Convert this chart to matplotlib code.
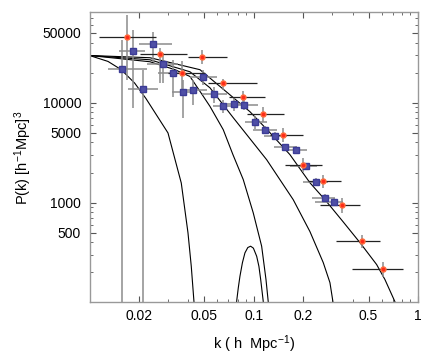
import numpy as np
import matplotlib.pyplot as plt

plt.rcParams['font.family'] = ['Liberation Sans', 'DejaVu Sans']
plt.rcParams['mathtext.default'] = 'regular'

# red points: k, P and their ranges
red_k = [0.0168, 0.0269, 0.0366, 0.0486, 0.0647, 0.0856, 0.1133, 0.150, 0.200, 0.2627, 0.3457, 0.4556, 0.609]
red_P = [46000, 30700, 19800, 29000, 15600, 11300, 7710, 4750, 2400, 1660, 940, 414, 214]
red_klo = [0.0115, 0.0203, 0.0300, 0.0399, 0.0526, 0.0709, 0.0913, 0.1255, 0.1548, 0.213, 0.2529, 0.3164, 0.3944]
red_khi = [0.0254, 0.0390, 0.0505, 0.0687, 0.1042, 0.117, 0.1533, 0.2001, 0.259, 0.342, 0.443, 0.5904, 0.8126]
red_Plo = [17000, 15800, 13500, 24500, 13500, 9770, 6460, 4070, 2040, 1410, 794, 355, 178]
red_Phi = [75900, 35500, 25900, 33900, 17400, 13200, 9120, 5620, 2820, 1910, 1100, 479, 257]

# blue points
blue_k = [0.0158, 0.0183, 0.0213, 0.0243, 0.0281, 0.0324, 0.0372, 0.0428, 0.0493, 0.0573, 0.0652,
          0.0758, 0.0875, 0.1017, 0.117, 0.1352, 0.1554, 0.180, 0.208, 0.238, 0.2724, 0.3077]
blue_P = [21900, 33300, 13800, 38600, 24400, 19800, 12700, 13500, 18100, 12200, 9330,
          9770, 9550, 6360, 5330, 4680, 3600, 3390, 2310, 1620, 1110, 1010]
blue_klo = [0.0130, 0.0152, 0.0172, 0.0200, 0.0223, 0.0261, 0.0317, 0.0356, 0.0409, 0.0482, 0.0565,
            0.0632, 0.0737, 0.0884, 0.0993, 0.1158, 0.1327, 0.1512, 0.1661, 0.1984, 0.2251, 0.2358]
blue_khi = [0.0223, 0.0218, 0.0261, 0.0317, 0.0347, 0.0381, 0.0439, 0.0517, 0.0595, 0.0684, 0.0790,
            0.0922, 0.106, 0.1198, 0.1379, 0.1599, 0.1824, 0.2116, 0.2415, 0.2841, 0.312, 0.3506]
blue_Plo = [1, 8850, 1, 25700, 15800, 11500, 7080, 9550, 15100, 10000, 7940,
            8320, 8510, 5500, 4900, 4300, 3300, 3100, 2120, 1490, 1020, 930]
blue_Phi = [42700, 53700, 21400, 51300, 31600, 26900, 17000, 17000, 21400, 14500, 10700,
            11200, 10700, 7410, 5800, 5100, 3900, 3700, 2520, 1770, 1210, 1100]

# model curves
curveA_k = [0.01, 0.01296, 0.01561, 0.01884, 0.02207, 0.03005, 0.0362, 0.03977, 0.04164, 0.04325, 0.0437]
curveA_P = [29700, 25900, 21400, 15700, 11000, 4980, 1570, 498, 231, 102, 80]
curveB_k = [0.01, 0.02334, 0.03315, 0.04089, 0.04705, 0.05412, 0.0652, 0.0747, 0.08631, 0.0993, 0.1117, 0.1187, 0.1225, 0.124]
curveB_P = [29700, 25700, 21400, 18300, 13000, 9190, 5370, 3020, 1700, 789, 366, 170, 102, 80]
curveC_k = [0.01, 0.02334, 0.04089, 0.05412, 0.0750, 0.1198, 0.1739, 0.2198, 0.2649, 0.2910, 0.3034, 0.307]
curveC_P = [29700, 26900, 20400, 14100, 7080, 2690, 1070, 513, 251, 158, 102, 80]
curveD_k = [0.01, 0.02334, 0.04705, 0.0716, 0.0948, 0.1255, 0.1661, 0.2198, 0.2713, 0.3491, 0.443, 0.5598, 0.6288, 0.7235, 0.74]
curveD_P = [29700, 28200, 21400, 12000, 8130, 5010, 3020, 1580, 1070, 646, 398, 240, 170, 102, 80]
bump_k = [0.0775, 0.07869, 0.0805, 0.0824, 0.0853, 0.08838, 0.092, 0.0957, 0.0995, 0.1042, 0.1075, 0.1102, 0.1142, 0.1155]
bump_P = [60, 103, 140, 183, 250, 314, 355, 366, 350, 290, 230, 170, 103, 60]

xticks = [0.02, 0.05, 0.1, 0.2, 0.5, 1]
xticklabels = ['0.02', '0.05', '0.1', '0.2', '0.5', '1']
yticks = [500, 1000, 5000, 10000, 50000]
yticklabels = ['500', '1000', '5000', '10000', '50000']

fig = plt.figure(figsize=(4.36, 3.54), dpi=100)
ax = fig.add_axes([0.2053, 0.1455, 0.7534, 0.8192])

for ck, cp in [(curveA_k, curveA_P), (curveB_k, curveB_P), (curveC_k, curveC_P),
               (curveD_k, curveD_P), (bump_k, bump_P)]:
    ax.plot(ck, cp, color='black', lw=0.8, zorder=2)

bk = np.array(blue_k)
bp = np.array(blue_P)
ax.errorbar(bk, bp, xerr=[bk - np.array(blue_klo), np.array(blue_khi) - bk],
            yerr=[bp - np.array(blue_Plo), np.array(blue_Phi) - bp],
            fmt='none', ecolor='#8c8c8c', elinewidth=1.1, capsize=0, zorder=3)
rk = np.array(red_k)
rp = np.array(red_P)
ax.errorbar(rk, rp, xerr=[rk - np.array(red_klo), np.array(red_khi) - rk],
            fmt='none', ecolor='#222222', elinewidth=0.9, capsize=0, zorder=3)
ax.errorbar(rk, rp, yerr=[rp - np.array(red_Plo), np.array(red_Phi) - rp],
            fmt='none', ecolor='#8c8c8c', elinewidth=1.1, capsize=0, zorder=3)
ax.plot(bk, bp, 's', color='#4f4fa6', mec='#3c3c96', ms=5, zorder=4)
ax.plot(rk, rp, 'o', color='#ff2a1a', mec='#ff6a3a', ms=3.6, zorder=5)

ax.set_xscale('log')
ax.set_yscale('log')
ax.set_xlim(0.01, 1)
ax.set_ylim(100, 80000)
ax.set_xticks(xticks)
ax.set_xticklabels(xticklabels)
ax.set_yticks(yticks)
ax.set_yticklabels(yticklabels)
ax.tick_params(which='both', direction='in', top=True, right=True, color='#555555',
               labelsize=10)
ax.tick_params(axis='x', pad=5)
ax.tick_params(axis='y', pad=6)
ax.tick_params(which='major', length=4, width=0.8)
ax.tick_params(which='minor', length=2, width=0.6)
for s in ax.spines.values():
    s.set_color('#999999')
    s.set_linewidth(1.0)

ax.set_xlabel(r'k ( h  Mpc$^{-1}$)', fontsize=10.5, labelpad=7)
ax.set_ylabel(r'P(k) [h$^{-1}$Mpc]$^3$', fontsize=10.5, labelpad=6)

fig.savefig('out.png', dpi=100)
